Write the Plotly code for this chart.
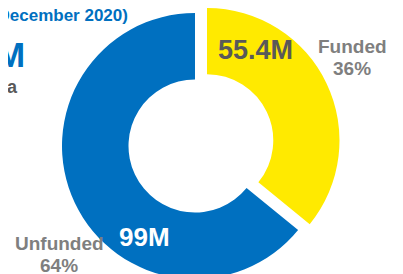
import plotly.graph_objects as go

# ---- data ----
labels = ["Funded", "Unfunded"]
values = [55.4, 99.0]
value_text = ["55.4M", "99M"]
colors = ["#FFEA00", "#0070C0"]
title_text = "Funding Status (as of December 2020)"
total_text = "$154.4M"
subtitle_text = "Somalia"

W, H = 403, 280
OFF = 8  # page body margin offset
total = sum(values)
pcts = [round(v / total * 100) for v in values]


def px(x):
    return (x - OFF) / W


def py(y):
    return 1 - (y - OFF) / H


R = 133
CX, CY = 195, 146          # centre of the ring (page px)
PDX, PDY = 12, -6          # offset of the pulled-out slice


def dom(cx, cy):
    y0 = max(0.0, py(cy + R))
    y1 = min(1.0, py(cy - R))
    return dict(x=[px(cx - R), px(cx + R)], y=[y0, y1])


common = dict(labels=labels, values=values, hole=0.5, sort=False,
              direction="clockwise", rotation=0, textinfo="none",
              hoverinfo="skip", showlegend=False)

fig = go.Figure()
# unfunded part (not pulled)
fig.add_trace(go.Pie(**common,
                     marker=dict(colors=["rgba(0,0,0,0)", colors[1]], line=dict(width=0)),
                     domain=dom(CX, CY)))
# funded part (pulled out)
fig.add_trace(go.Pie(**common,
                     marker=dict(colors=[colors[0], "rgba(0,0,0,0)"], line=dict(width=0)),
                     domain=dom(CX + PDX, CY + PDY)))

FONT = "Liberation Sans, Arial, sans-serif"
ann = []


def add(text, x, y, size, color, xanchor="center"):
    ann.append(dict(text="<b>%s</b>" % text, x=px(x), y=py(y), xref="paper", yref="paper",
                    xanchor=xanchor, yanchor="middle", showarrow=False,
                    font=dict(family=FONT, size=size, color=color)))


add(title_text, 130, 15, 17, "#0070C0", "right")
add(total_text, 27, 55, 35, "#0070C0", "right")
add(subtitle_text, 20, 87, 18, "#595959", "right")

add(value_text[0], 255, 50, 27, "#595959")
add(value_text[1], 144, 237, 26, "#FFFFFF")

add(labels[0], 352, 47, 19, "#7F7F7F")
add("%d%%" % pcts[0], 352, 68.5, 19, "#7F7F7F")
add(labels[1], 59, 243, 19, "#7F7F7F")
add("%d%%" % pcts[1], 59, 265, 19, "#7F7F7F")

fig.update_layout(
    width=W, height=H,
    margin=dict(l=0, r=0, t=0, b=0),
    paper_bgcolor="white", plot_bgcolor="white",
    annotations=ann,
)

fig.write_html("out.html")
